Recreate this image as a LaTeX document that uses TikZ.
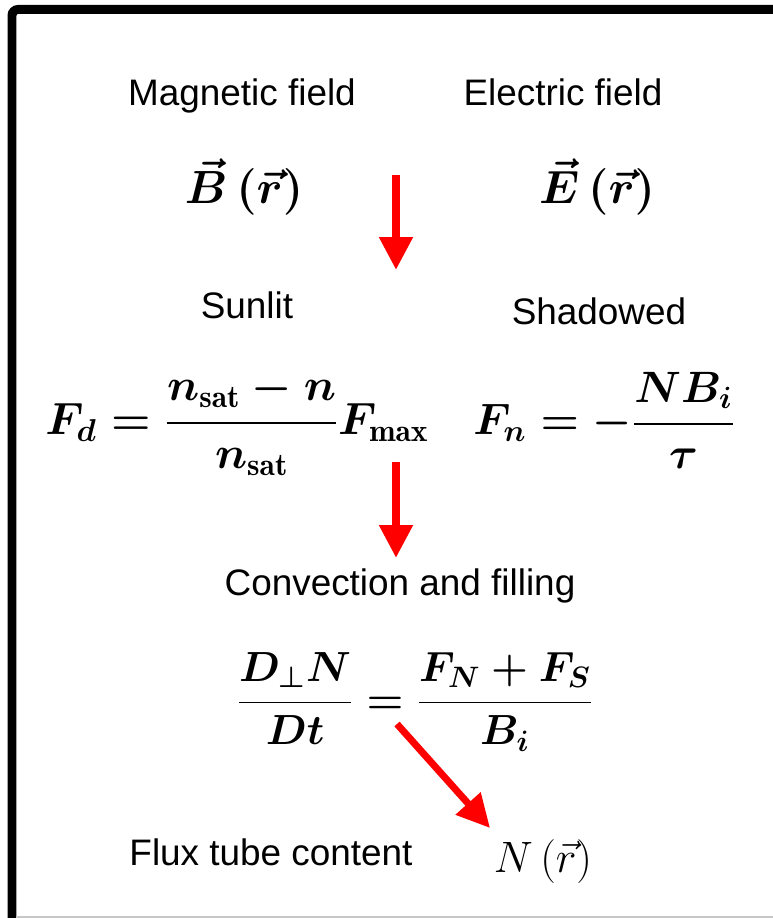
\documentclass[tikz,border=0pt]{standalone}
\usepackage{fix-cm}
\usepackage{amsmath,bm}
\usepackage{fontspec}
\newfontfamily\labelfont{Liberation Sans}
\usetikzlibrary{arrows.meta}
\tikzset{
  caption/.style={font=\labelfont\fontsize{21}{25}\selectfont,inner sep=0pt,anchor=base},
  formula/.style={font=\fontsize{#1}{30}\selectfont\boldmath,inner sep=0pt},
  formula/.default=25,
  flow/.style={-{Triangle[length=6.6mm,width=6.4mm]},line width=1.6mm,draw=red},
}

\begin{document}
\begin{tikzpicture}[x=0.02cm,y=-0.02cm]
  \useasboundingbox (0,0) rectangle (772,918);
  % frame
  \draw[line width=1.8mm,rounded corners=1.2mm] (800,9.5) -- (12,9.5) -- (12,940);
  \draw[black!22,line width=0.4mm] (16,917) -- (800,917);

  % fields
  \node[caption] (magcap) at (242,106) {Magnetic field};
  \node[caption] (elecap) at (563,106) {Electric field};
  \node[formula=26.5] (bfield) at (244,187) {$\vec{B}\left(\vec{r}\right)$};
  \node[formula=26.5] (efield) at (597,187) {$\vec{E}\left(\vec{r}\right)$};
  \coordinate (a1s) at (396,175);
  \coordinate (a1e) at (396,270);
  \draw[flow] (a1s) -- (a1e);

  % sources
  \node[caption] (suncap) at (247,318) {Sunlit};
  \node[caption] (shdcap) at (599,325) {Shadowed};
  \node[formula=25.7] (fday) at (237,424) {$\displaystyle F_d=\frac{n_{\mathrm{sat}}-n}{n_{\mathrm{sat}}}F_{\max}$};
  \node[formula] (fnight) at (604,420) {$\displaystyle F_n=-\frac{NB_i}{\tau}$};
  \coordinate (a2s) at (396,462);
  \coordinate (a2e) at (396,558);
  \draw[flow] (a2s) -- (a2e);

  % convection
  \node[caption] (convcap) at (400,595) {Convection and filling};
  \node[formula=24] (conv) at (415,702) {$\displaystyle \frac{D_{\perp}N}{Dt}=\frac{F_N+F_S}{B_i}$};
  \coordinate (a3s) at (397,724);
  \coordinate (a3e) at (490,828);
  \draw[flow,line width=1.4mm] (a3s) -- (a3e);

  % result
  \node[formula,font=\fontsize{25}{30}\selectfont\unboldmath] (content) at (543,862) {$N\left(\vec{r}\right)$};
  \node[caption] (fluxcap) at (271,865) {Flux tube content};
\end{tikzpicture}
\end{document}
